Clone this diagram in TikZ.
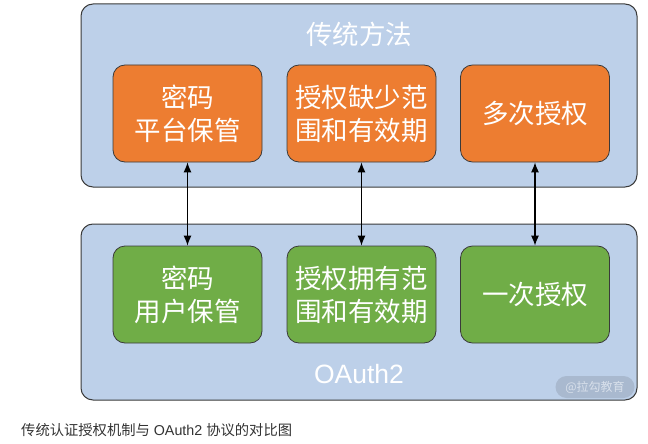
\documentclass[tikz,border=0pt]{standalone}
\usepackage{fontspec}
\setmainfont{Liberation Sans}
\newfontfamily\cjk{Noto Sans CJK SC}
\usetikzlibrary{arrows.meta}
\definecolor{panelfill}{HTML}{BDD0E9}
\definecolor{edge}{HTML}{3A3A3A}
\definecolor{oldway}{HTML}{ED7D31}
\definecolor{newway}{HTML}{70AD47}
\definecolor{markfill}{HTML}{A9B9CF}
\definecolor{marktext}{HTML}{D8E0EB}
\definecolor{captext}{HTML}{333333}

\begin{document}
\begin{tikzpicture}[x=1pt,y=-1pt,
  panel/.style={rectangle,draw=edge,fill=panelfill,line width=1pt,rounded corners=12pt,minimum width=556pt},
  item/.style={rectangle,draw=edge,line width=0.8pt,rounded corners=12pt,minimum width=149pt,minimum height=97pt,text=white,align=center,font=\cjk\fontsize{26.5}{33}\selectfont},
  heading/.style={text=white,font=\fontsize{26.5}{30}\selectfont},
  link/.style={{Latex[length=10pt,width=8pt]}-{Latex[length=10pt,width=8pt]},line width=1.1pt,black}]
\useasboundingbox (0,0) rectangle (648,444);
%paneles
\path (359,95.5) node(top)[panel,minimum height=183pt]{}
(359,312) node(bottom)[panel,minimum height=176pt]{}
(359,34) node(toptitle)[heading]{\cjk 传统方法}
(359,374) node(bottomtitle)[heading]{OAuth2};
%cajas
\path (187.5,113.5) node(o1)[item,fill=oldway]{密码\\平台保管}
(361.5,113.5) node(o2)[item,fill=oldway]{授权缺少范\\围和有效期}
(535,113.5) node(o3)[item,fill=oldway]{多次授权}
(187.5,294.5) node(g1)[item,fill=newway]{密码\\用户保管}
(361.5,294.5) node(g2)[item,fill=newway]{授权拥有范\\围和有效期}
(535,294.5) node(g3)[item,fill=newway]{一次授权};
\path (595,387) node(mark)[fill=markfill,rounded corners=11pt,minimum width=79pt,minimum height=22pt,inner sep=0pt,text=marktext,font=\cjk\fontsize{12}{12}\selectfont]{@拉勾教育}
(21,430) node(caption)[anchor=west,inner sep=0pt,text=captext,font=\fontsize{14.3}{14}\selectfont]{{\cjk 传统认证授权机制与} OAuth2 {\cjk 协议的对比图}};
\draw[link](o1.south)--(g1.north);
\draw[link](o2.south)--(g2.north);
\draw[link](o3.south)--(g3.north);
\end{tikzpicture}
\end{document}
